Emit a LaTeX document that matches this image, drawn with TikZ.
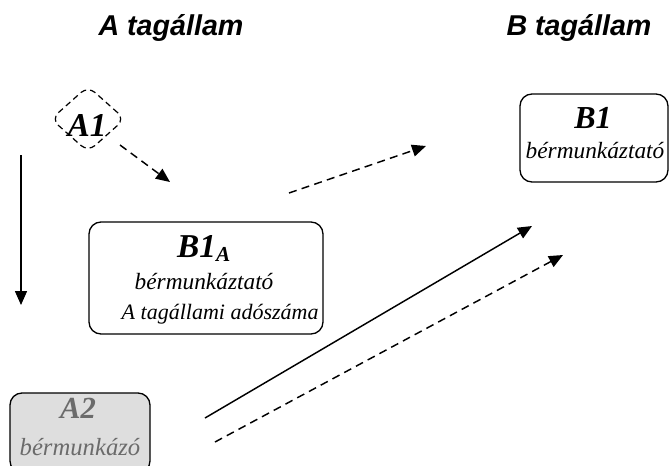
\documentclass[tikz,border=0pt]{standalone}
\usepackage{fontspec}
\setmainfont{Liberation Serif}
\newfontfamily\titlefont{Liberation Sans}
\usetikzlibrary{arrows.meta,shapes.geometric}
\definecolor{boxgray}{gray}{0.87}
\definecolor{txtgray}{gray}{0.42}
\tikzset{
  conn/.style={line width=1.1pt,-{Triangle[length=10.5pt,width=9pt]}},
  dconn/.style={conn,dash pattern=on 6pt off 4pt},
  rbox/.style={draw,line width=1pt,rounded corners=9pt,inner sep=0pt},
  ttl/.style={font=\titlefont\bfseries\itshape\fontsize{21.5}{24}\selectfont,anchor=base},
  big/.style={font=\bfseries\itshape\fontsize{24}{26}\selectfont,anchor=base},
  small/.style={font=\itshape\fontsize{17.5}{19}\selectfont,anchor=base}
}
\begin{document}
\begin{tikzpicture}[x=0.75pt,y=-0.75pt]
\useasboundingbox (0,0) rectangle (670,465);
% titles
\node[ttl] (ta) at (171,35) {A tagállam};
\node[ttl] (tb) at (579,35) {B tagállam};
% A1
\node[draw,diamond,dash pattern=on 4.5pt off 3pt,line width=0.9pt,rounded corners=7pt,
      minimum width={74*0.75pt},minimum height={66*0.75pt},inner sep=0pt] (a1) at (88,119) {};
\node[big,font=\bfseries\itshape\fontsize{25}{27}\selectfont] (a1t) at (87,136) {A1};
% B1_A box
\node[rbox,minimum width={234*0.75pt},minimum height={112*0.75pt}] (b1a) at (206,278) {};
\node[big,font=\bfseries\itshape\fontsize{25}{27}\selectfont] (b1at) at (204,257) {B1\textsubscript{\fontsize{16}{16}\selectfont A}};
\node[small,anchor=base west] (b1as1) at (130,289) {bérmunkáztató};
\node[small,anchor=base west,font=\itshape\fontsize{16.5}{18}\selectfont] (b1as2) at (117,319) {A tagállami adószáma};
% B1 box
\node[rbox,minimum width={148*0.75pt},minimum height={88*0.75pt}] (b1) at (594,138) {};
\node[big] (b1t) at (593,128) {B1};
\node[small] (b1s) at (595,158) {bérmunkáztató};
% A2 box
\node[rbox,fill=boxgray,minimum width={140*0.75pt},minimum height={80*0.75pt}] (a2) at (80,433) {};
\node[big,text=txtgray,font=\bfseries\itshape\fontsize{23}{25}\selectfont] (a2t) at (78,418) {A2};
\node[small,text=txtgray,font=\itshape\fontsize{18.5}{20}\selectfont] (a2s) at (80,455) {bérmunkázó};
% connector endpoints
\coordinate (p1s) at (120,145); \coordinate (p1e) at (170,182);
\coordinate (p2s) at (21,155);  \coordinate (p2e) at (21,305);
\coordinate (p3s) at (289,193); \coordinate (p3e) at (426,146);
\coordinate (p4s) at (205,418); \coordinate (p4e) at (532,226);
\coordinate (p5s) at (215,442); \coordinate (p5e) at (563,255);
\draw[dconn] (p1s) -- (p1e);
\draw[conn] (p2s) -- (p2e);
\draw[dconn] (p3s) -- (p3e);
\draw[conn] (p4s) -- (p4e);
\draw[dconn] (p5s) -- (p5e);
\end{tikzpicture}
\end{document}
